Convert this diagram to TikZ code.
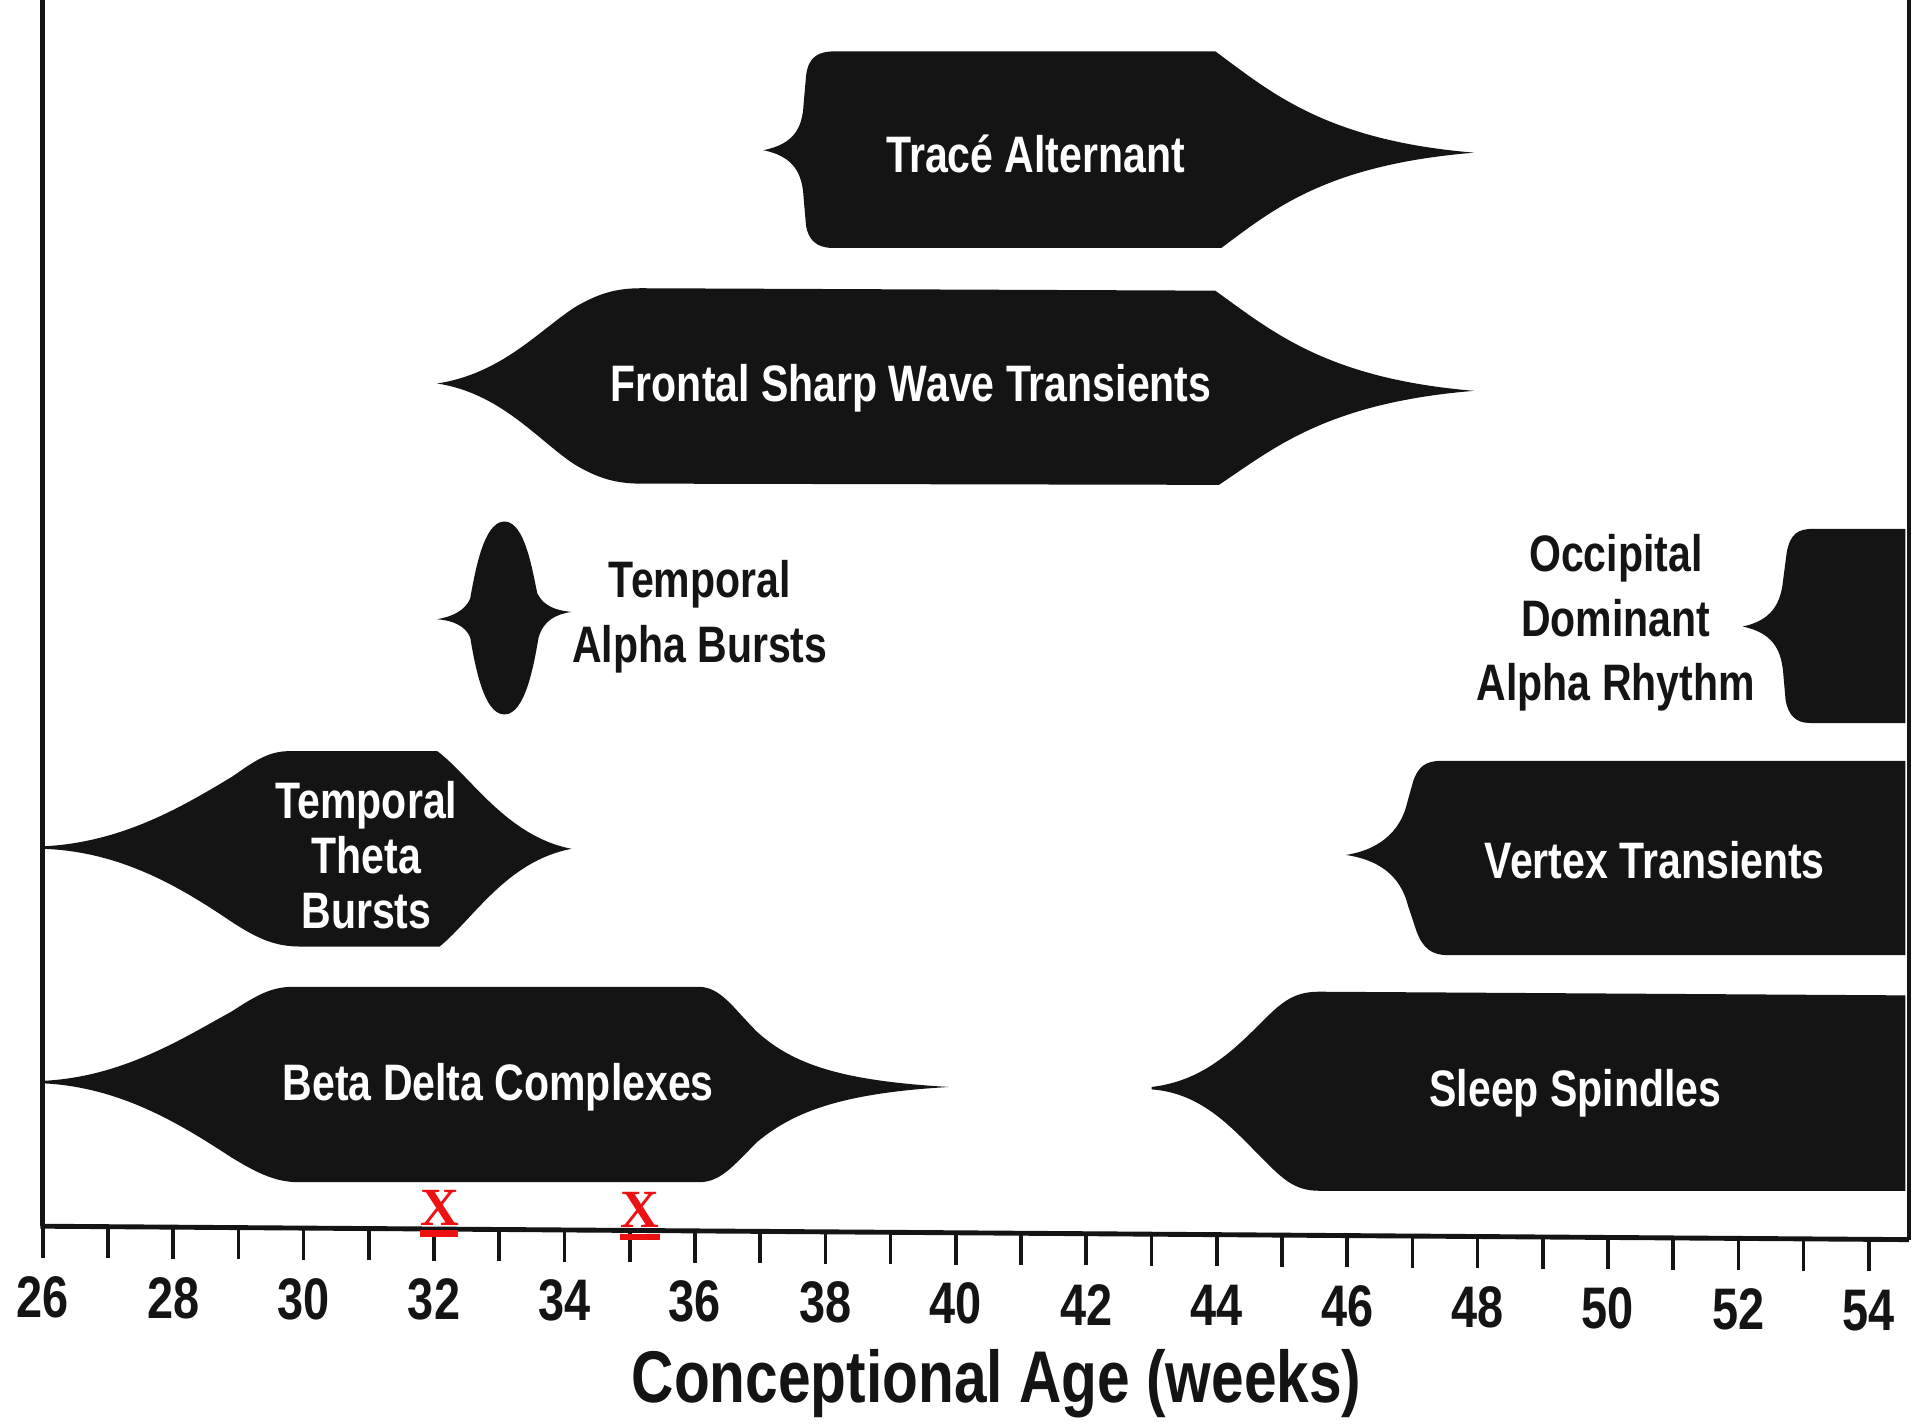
\documentclass[tikz,border=0pt]{standalone}
\usepackage{fontspec}
\setmainfont{Liberation Sans}
\newfontfamily\labfont[FakeStretch=0.8]{Liberation Sans}
\newfontfamily\xfont{Liberation Serif}
\definecolor{ink}{HTML}{141414}
\definecolor{xred}{HTML}{EE1111}
\begin{document}
\begin{tikzpicture}[x=1pt,y=-1pt,
  blob/.style={fill=ink,draw=none},
  inlab/.style={text=white,font=\labfont\bfseries\fontsize{42}{53}\selectfont,align=center,inner sep=0pt},
  outlab/.style={text=ink,font=\labfont\bfseries\fontsize{42}{53}\selectfont,align=center,inner sep=0pt},
  ticklab/.style={text=ink,font=\labfont\bfseries\fontsize{48}{48}\selectfont,inner sep=0pt},
  axline/.style={draw=ink,line width=4pt},
  tickline/.style={draw=ink,line width=3pt},
  redx/.style={text=xred,font=\xfont\bfseries\fontsize{44}{44}\selectfont,inner sep=0pt},
  redbar/.style={draw=xred,line width=5pt}]
\useasboundingbox (0,0) rectangle (1568,1169);
\fill[white] (0,0) rectangle (1568,1169);

% Trace Alternant
\path[blob] (625,123) .. controls (650,118) and (657,105) .. (658,85) -- (660,62)
  .. controls (662,46) and (670,42) .. (685,42) -- (995,42)
  .. controls (1040,75) and (1085,115) .. (1207,125)
  .. controls (1085,135) and (1042,172) .. (1000,203) -- (682,203)
  .. controls (668,203) and (662,196) .. (660,185) -- (658,162)
  .. controls (657,142) and (650,128) .. (625,123) -- cycle;
% Frontal Sharp Wave Transients
\path[blob] (358,314) .. controls (410,306) and (440,272) .. (470,252)
  .. controls (490,240) and (505,236) .. (525,236) -- (995,238)
  .. controls (1040,270) and (1085,310) .. (1207,320)
  .. controls (1085,330) and (1042,368) .. (998,397) -- (525,396)
  .. controls (505,396) and (490,392) .. (470,380)
  .. controls (440,360) and (410,322) .. (358,314) -- cycle;
% Temporal Alpha Bursts spindle
\path[blob] (413,427) .. controls (430,427) and (436,468) .. (440,486)
  .. controls (445,496) and (455,500) .. (468,501)
  .. controls (455,503) and (445,508) .. (441,522)
  .. controls (437,545) and (430,585) .. (413,585)
  .. controls (396,585) and (389,545) .. (385,522)
  .. controls (381,512) and (370,508) .. (358,507)
  .. controls (370,505) and (381,500) .. (385,490)
  .. controls (389,468) and (396,427) .. (413,427) -- cycle;
% Temporal Theta Bursts
\path[blob] (35,693) .. controls (100,690) and (150,660) .. (190,636)
  .. controls (210,622) and (220,615) .. (238,615) -- (358,615)
  .. controls (385,635) and (415,685) .. (468,695)
  .. controls (415,705) and (388,752) .. (360,775) -- (245,775)
  .. controls (225,775) and (210,768) .. (190,755)
  .. controls (150,728) and (100,697) .. (35,695) -- cycle;
% Beta Delta Complexes
\path[blob] (35,885) .. controls (100,882) and (150,850) .. (190,828)
  .. controls (210,815) and (222,808) .. (240,808) -- (572,808)
  .. controls (590,808) and (600,825) .. (620,845)
  .. controls (650,872) and (690,885) .. (777,890)
  .. controls (690,895) and (650,910) .. (620,935)
  .. controls (600,955) and (590,968) .. (572,968) -- (245,968)
  .. controls (225,968) and (210,960) .. (190,948)
  .. controls (150,922) and (100,890) .. (35,887) -- cycle;
% Occipital Dominant Alpha Rhythm
\path[blob] (1427,513) .. controls (1450,508) and (1458,495) .. (1460,475) -- (1463,452)
  .. controls (1466,437) and (1472,433) .. (1485,433) -- (1560,433) -- (1560,592) -- (1482,592)
  .. controls (1470,592) and (1464,585) .. (1462,573) -- (1460,550)
  .. controls (1458,530) and (1450,518) .. (1427,513) -- cycle;
% Vertex Transients
\path[blob] (1102,700) .. controls (1135,695) and (1148,675) .. (1152,658) -- (1157,640)
  .. controls (1161,628) and (1167,623) .. (1180,623) -- (1560,623) -- (1560,782) -- (1185,782)
  .. controls (1172,782) and (1165,776) .. (1160,763) -- (1153,742)
  .. controls (1148,722) and (1135,705) .. (1102,700) -- cycle;
% Sleep Spindles
\path[blob] (943,890) .. controls (985,885) and (1010,860) .. (1035,835)
  .. controls (1050,820) and (1060,812) .. (1080,812) -- (1560,815) -- (1560,975) -- (1080,975)
  .. controls (1060,975) and (1050,965) .. (1035,950)
  .. controls (1010,925) and (985,895) .. (943,892) -- cycle;

% Labels
\node[inlab] (ta) at (848,126) {Tracé Alternant};
\node[inlab] (fs) at (746,318) {Frontal Sharp Wave Transients};
\node[outlab] (tab) at (573,505) {Temporal\\Alpha Bursts};
\node[outlab] (oc) at (1323,510) {Occipital\\Dominant\\Alpha Rhythm};
\node[inlab,font=\labfont\bfseries\fontsize{42}{45}\selectfont] (tt) at (300,700) {Temporal\\Theta\\Bursts};
\node[inlab] (vt) at (1355,704) {Vertex Transients};
\node[inlab] (bd) at (408,890) {Beta Delta Complexes};
\node[inlab] (ss) at (1290,895) {Sleep Spindles};

% Axes
\coordinate (tl) at (35,0);
\coordinate (bl) at (35,1004);
\coordinate (br) at (1563,1015);
\coordinate (tr) at (1563,0);
\draw[axline] (tl) -- (bl);
\draw[axline,line width=3pt] (tr) -- (br);
\draw[axline] (33,1004) -- (br);
\foreach \w in {26,...,54} {
  \pgfmathsetmacro{\xx}{35+(\w-26)*53.4}
  \pgfmathsetmacro{\yy}{1004+(\xx-35)*0.0072}
  \coordinate (t\w) at (\xx,\yy);
  \draw[tickline] (t\w) -- ++(0,26);
}
\foreach \w in {26,28,...,54} {
  \node[ticklab] (l\w) at ([yshift=-58pt]t\w) {\w};
}
\node[text=ink,font=\labfont\bfseries\fontsize{60}{60}\selectfont,inner sep=0pt] (title) at (816,1133) {Conceptional Age (weeks)};

% Red markers
\node[redx] (x1) at (360,989) {X};
\node[redx] (x2) at (524,991) {X};
\draw[redbar] ([yshift=-21pt]x1.center) ++(-16,0) -- ++(31,0);
\draw[redbar] ([yshift=-22pt]x2.center) ++(-16,0) -- ++(32,0);
\end{tikzpicture}
\end{document}
